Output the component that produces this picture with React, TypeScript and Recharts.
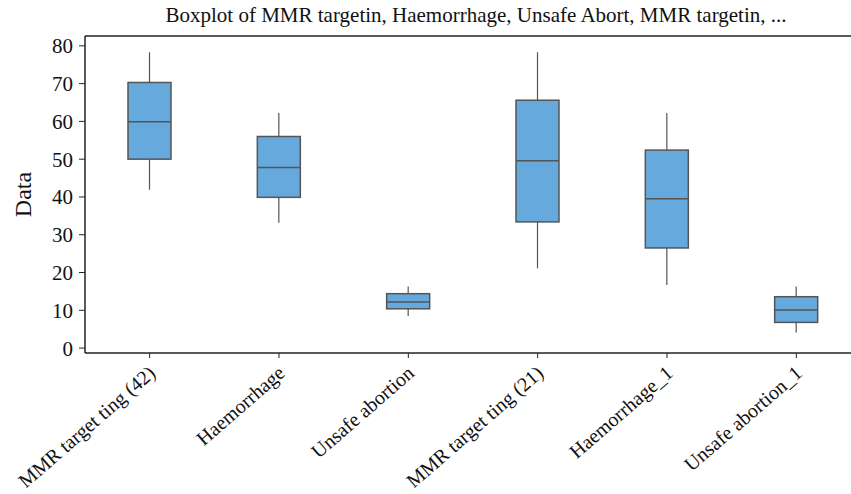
import React from "react";
import {
  ComposedChart,
  Bar,
  XAxis,
  YAxis,
  ReferenceLine,
} from "recharts";

const categories = [
  "MMR target ting (42)",
  "Haemorrhage",
  "Unsafe abortion",
  "MMR target ting (21)",
  "Haemorrhage_1",
  "Unsafe abortion_1",
];
const minValues = [41.9, 33.2, 8.5, 21.1, 16.7, 4.1];
const q1Values = [50.0, 39.9, 10.4, 33.4, 26.5, 6.8];
const medianValues = [59.9, 47.8, 12.2, 49.6, 39.5, 10.1];
const q3Values = [70.3, 56.0, 14.4, 65.6, 52.4, 13.6];
const maxValues = [78.3, 62.2, 16.3, 78.3, 62.2, 16.3];
const yTicks = [0, 10, 20, 30, 40, 50, 60, 70, 80];

const Y_MIN = -1.3;
const Y_MAX = 82.6;

const data = categories.map((name, i) => ({
  name,
  min: minValues[i],
  q1: q1Values[i],
  median: medianValues[i],
  q3: q3Values[i],
  max: maxValues[i],
}));

const FONT = "'Liberation Serif', 'DejaVu Serif', serif";
const BOX_FILL = "#66a9dd";
const BOX_STROKE = "#555555";

// range bar spans min..max, the rest is placed on the same linear scale
const BoxShape = (props: any) => {
  const { x, y, width, height, payload } = props;
  const { min, q1, median, q3, max } = payload;
  const toY = (v: number) => y + (height * (max - v)) / (max - min);
  const cx = x + width / 2;
  const yQ1 = toY(q1);
  const yQ3 = toY(q3);
  const yMed = toY(median);
  return (
    <g>
      <line x1={cx} x2={cx} y1={y} y2={yQ3} stroke={BOX_STROKE} strokeWidth={1.2} />
      <line x1={cx} x2={cx} y1={yQ1} y2={y + height} stroke={BOX_STROKE} strokeWidth={1.2} />
      <rect
        x={x}
        y={yQ3}
        width={width}
        height={yQ1 - yQ3}
        fill={BOX_FILL}
        stroke={BOX_STROKE}
        strokeWidth={1.5}
      />
      <line x1={x} x2={x + width} y1={yMed} y2={yMed} stroke={BOX_STROKE} strokeWidth={1.5} />
    </g>
  );
};

const XTick = (props: any) => {
  const { x, y, payload } = props;
  return (
    <g transform={`translate(${x + 7},${y + 15})`}>
      <text
        transform="rotate(-41)"
        textAnchor="end"
        fontFamily={FONT}
        fontSize={20}
        fill="#111"
      >
        {payload.value}
      </text>
    </g>
  );
};

export default function App() {
  return (
    <div
      style={{
        position: "fixed",
        left: 0,
        top: 0,
        width: 851,
        height: 494,
        overflow: "hidden",
        background: "#fff",
      }}
    >
      <div
        style={{
          position: "absolute",
          left: 0,
          width: 952,
          top: 3,
          textAlign: "center",
          fontFamily: FONT,
          fontSize: 21,
          color: "#111",
        }}
      >
        Boxplot of MMR targetin, Haemorrhage, Unsafe Abort, MMR targetin, ...
      </div>

      <ComposedChart
        width={880}
        height={494}
        data={data}
        margin={{ top: 36, right: 19, bottom: 0, left: 0 }}
        barCategoryGap={0}
      >
        <XAxis
          dataKey="name"
          interval={0}
          height={141}
          tick={<XTick />}
          tickSize={5}
          axisLine={{ stroke: "#222", strokeWidth: 1.5 }}
          tickLine={{ stroke: "#222" }}
        />
        <YAxis
          type="number"
          domain={[Y_MIN, Y_MAX]}
          ticks={yTicks}
          width={85}
          tickSize={6}
          axisLine={{ stroke: "#222", strokeWidth: 1.5 }}
          tickLine={{ stroke: "#222" }}
          tick={{ fontFamily: FONT, fontSize: 21, fill: "#111", dx: -4 }}
          label={{
            value: "Data",
            angle: -90,
            position: "insideLeft",
            offset: 22,
            style: { textAnchor: "middle", fontFamily: FONT, fontSize: 24, fill: "#111" },
          }}
        />
        <ReferenceLine y={Y_MAX} stroke="#222" strokeWidth={1.5} />
        <Bar
          dataKey={(d: any) => [d.min, d.max]}
          barSize={43}
          shape={<BoxShape />}
          isAnimationActive={false}
        />
      </ComposedChart>
    </div>
  );
}
